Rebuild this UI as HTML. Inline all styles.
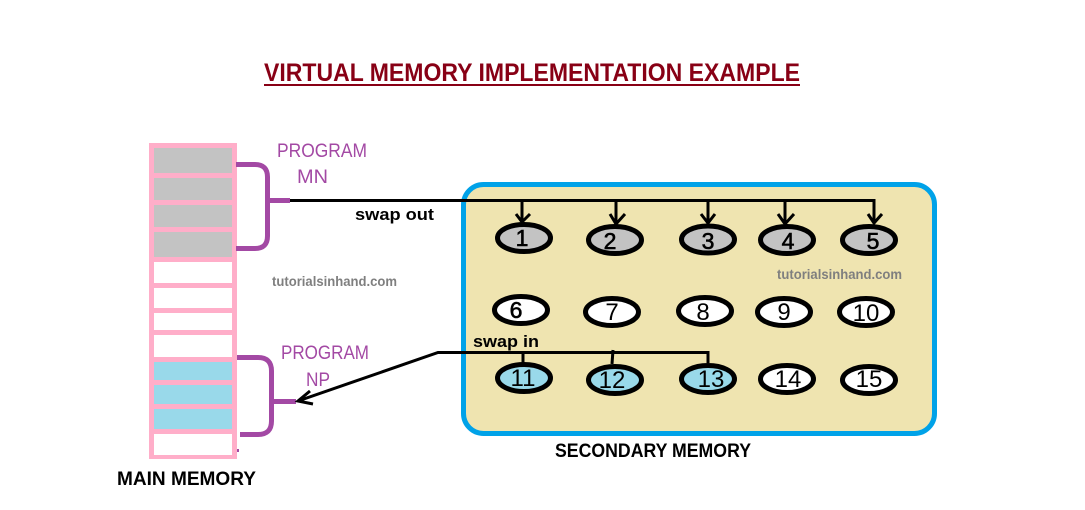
<!DOCTYPE html>
<html>
<head>
<meta charset="utf-8">
<style>
html,body{margin:0;padding:0;background:#fff;}
svg{display:block;}
text{font-family:"Liberation Sans",sans-serif;}
.d{font-size:24px;fill:#000;text-anchor:middle;}
.db{font-size:23px;fill:#000;text-anchor:middle;stroke:#000;stroke-width:.6px;}
.p{font-size:19px;fill:#a349a4;}
.b{font-size:17px;font-weight:bold;fill:#000;}
.t{font-size:13.500px;font-weight:bold;fill:#7f7f7f;}
.h{font-size:19px;font-weight:bold;fill:#000;}
</style>
</head>
<body>
<svg width="1085" height="510" viewBox="0 0 1085 510" xmlns="http://www.w3.org/2000/svg">
<rect width="1085" height="510" fill="#fff"/>

<text x="264" y="81" fill="#880015" textLength="536" lengthAdjust="spacingAndGlyphs" style="font-size:25px;font-weight:bold">VIRTUAL MEMORY IMPLEMENTATION EXAMPLE</text>
<rect x="264" y="84" width="536" height="2" fill="#880015"/>

<!-- main memory -->
<rect x="149" y="143" width="88" height="316" fill="#ffaec9"/>
<g fill="#c3c3c3">
<rect x="154" y="148" width="78" height="25"/>
<rect x="154" y="178" width="78" height="22"/>
<rect x="154" y="205" width="78" height="22"/>
<rect x="154" y="232" width="78" height="25"/>
</g>
<g fill="#fff">
<rect x="154" y="262" width="78" height="21"/>
<rect x="154" y="288" width="78" height="20"/>
<rect x="154" y="313" width="78" height="17"/>
<rect x="154" y="335" width="78" height="22"/>
<rect x="154" y="434" width="78" height="21"/>
</g>
<g fill="#99d9ea">
<rect x="154" y="362" width="78" height="18"/>
<rect x="154" y="385" width="78" height="19"/>
<rect x="154" y="409" width="78" height="20"/>
</g>
<rect x="237" y="449" width="2" height="3" fill="#a349a4"/>

<!-- braces -->
<g fill="none" stroke="#a349a4" stroke-width="5">
<path d="M236 164.500H255Q267.500 164.500 267.500 177V236Q267.500 248.500 255 248.500H236"/>
<path d="M267.500 200.500H290"/>
<path d="M237 357.500H258Q271.500 357.500 271.500 371V421Q271.500 434.500 258 434.500H240"/>
<path d="M271.500 401.500H296"/>
</g>

<!-- secondary memory -->
<rect x="463.500" y="184.500" width="471" height="249" rx="20" ry="20" fill="#efe4b0" stroke="#00a2e8" stroke-width="5"/>

<!-- ellipses -->
<g stroke="#000" stroke-width="5">
<g fill="#c3c3c3">
<ellipse cx="524" cy="238" rx="26.500" ry="13.500"/>
<ellipse cx="615" cy="240" rx="26.500" ry="13.500"/>
<ellipse cx="708" cy="239.500" rx="26.500" ry="13.500"/>
<ellipse cx="787" cy="240" rx="26.500" ry="13.500"/>
<ellipse cx="869" cy="240" rx="26.500" ry="13.500"/>
</g>
<g fill="#fff">
<ellipse cx="521" cy="310" rx="26.500" ry="13.500"/>
<ellipse cx="612" cy="312" rx="26.500" ry="13.500"/>
<ellipse cx="705" cy="311" rx="26.500" ry="13.500"/>
<ellipse cx="784" cy="312" rx="26.500" ry="13.500"/>
<ellipse cx="866" cy="312" rx="26.500" ry="13.500"/>
<ellipse cx="787" cy="379" rx="26.500" ry="13.500"/>
<ellipse cx="869" cy="380" rx="26.500" ry="13.500"/>
</g>
<g fill="#99d9ea">
<ellipse cx="524" cy="378" rx="26.500" ry="13.500"/>
<ellipse cx="615" cy="380" rx="26.500" ry="13.500"/>
<ellipse cx="708" cy="379" rx="26.500" ry="13.500"/>
</g>
</g>

<!-- swap out connector -->
<g fill="none" stroke="#000" stroke-width="3">
<path d="M290 200.500H874V222"/>
<path d="M522 200.500V222"/>
<path d="M616 200.500V224"/>
<path d="M708 200.500V223"/>
<path d="M785 200.500V224"/>
<path d="M516 214L522 222L530 214"/>
<path d="M610 214L616 224L625 214"/>
<path d="M701 214L708 223L715 214"/>
<path d="M778 214L785 224L794 214"/>
<path d="M868 214L874 223L882 214"/>
<!-- swap in connector -->
<path d="M708 363V352.500H438L298 401"/>
<path d="M523 352.500V363"/>
<path d="M613 350L612 364"/>
<path d="M310 391L298 401L313 404"/>
</g>

<!-- digits -->
<text class="db" x="522" y="246">1</text>
<text class="db" x="610" y="249">2</text>
<text class="db" x="708" y="249">3</text>
<text class="db" x="788" y="249">4</text>
<text class="db" x="873" y="249">5</text>
<text class="db" x="516" y="318">6</text>
<text class="d" x="612" y="320">7</text>
<text class="d" x="703" y="320">8</text>
<text class="d" x="784" y="320">9</text>
<text class="d" x="866" y="321">10</text>
<text class="d" x="523" y="386">11</text>
<text class="d" x="612" y="388">12</text>
<text class="d" x="711" y="387">13</text>
<text class="d" x="788" y="387">14</text>
<text class="d" x="869" y="387">15</text>

<!-- labels -->
<text class="p" x="277" y="157" textLength="90" lengthAdjust="spacingAndGlyphs">PROGRAM</text>
<text class="p" x="297" y="183" textLength="31" lengthAdjust="spacingAndGlyphs">MN</text>
<text class="p" x="281" y="359" textLength="88" lengthAdjust="spacingAndGlyphs">PROGRAM</text>
<text class="p" x="306" y="386" textLength="24" lengthAdjust="spacingAndGlyphs">NP</text>
<text class="b" x="355" y="220" textLength="79" lengthAdjust="spacingAndGlyphs">swap out</text>
<text class="b" x="473" y="347" textLength="66" lengthAdjust="spacingAndGlyphs">swap in</text>
<text class="t" x="272" y="286" textLength="125" lengthAdjust="spacingAndGlyphs">tutorialsinhand.com</text>
<text class="t" x="777" y="279" textLength="125" lengthAdjust="spacingAndGlyphs">tutorialsinhand.com</text>
<text class="h" x="117" y="485" textLength="139" lengthAdjust="spacingAndGlyphs">MAIN MEMORY</text>
<text class="h" x="555" y="457" textLength="196" lengthAdjust="spacingAndGlyphs">SECONDARY MEMORY</text>
</svg>
</body>
</html>
